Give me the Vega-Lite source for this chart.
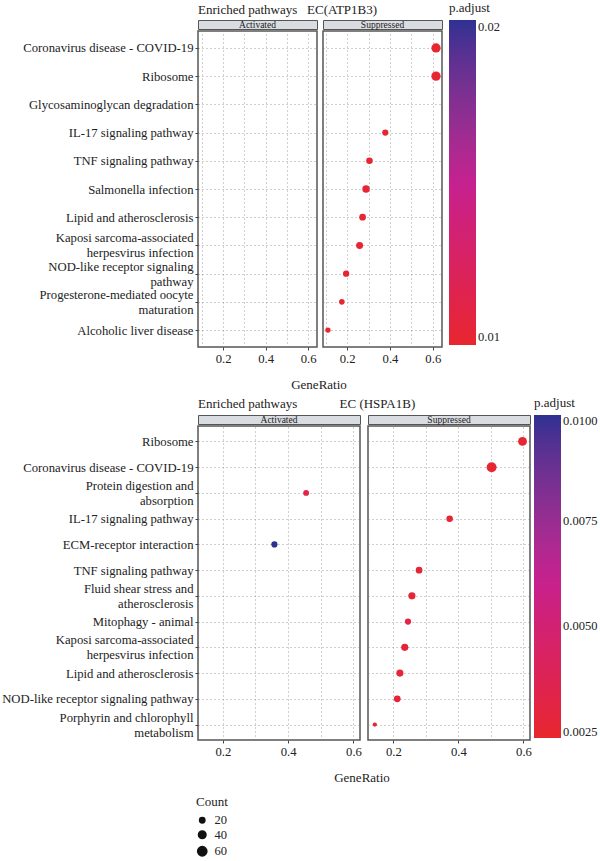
{
  "$schema": "https://vega.github.io/schema/vega-lite/v6.json",
  "padding": {"left": 0, "top": 2, "right": 5, "bottom": 5},
  "datasets": {
    "top": [
      {"Description": "Coronavirus disease - COVID-19", "Direction": "Suppressed", "GeneRatio": 0.615, "Count": 60, "p_adjust": 0.0099},
      {"Description": "Ribosome", "Direction": "Suppressed", "GeneRatio": 0.615, "Count": 60, "p_adjust": 0.0099},
      {"Description": "IL-17 signaling pathway", "Direction": "Suppressed", "GeneRatio": 0.378, "Count": 27, "p_adjust": 0.0100},
      {"Description": "TNF signaling pathway", "Direction": "Suppressed", "GeneRatio": 0.304, "Count": 30, "p_adjust": 0.0100},
      {"Description": "Salmonella infection", "Direction": "Suppressed", "GeneRatio": 0.288, "Count": 39, "p_adjust": 0.0100},
      {"Description": "Lipid and atherosclerosis", "Direction": "Suppressed", "GeneRatio": 0.272, "Count": 32, "p_adjust": 0.0100},
      {"Description": "Kaposi sarcoma-associated herpesvirus infection", "Direction": "Suppressed", "GeneRatio": 0.258, "Count": 34, "p_adjust": 0.0100},
      {"Description": "NOD-like receptor signaling pathway", "Direction": "Suppressed", "GeneRatio": 0.195, "Count": 28, "p_adjust": 0.0100},
      {"Description": "Progesterone-mediated oocyte maturation", "Direction": "Suppressed", "GeneRatio": 0.175, "Count": 22, "p_adjust": 0.0100},
      {"Description": "Alcoholic liver disease", "Direction": "Suppressed", "GeneRatio": 0.110, "Count": 20, "p_adjust": 0.0100}
    ],
    "bottom": [
      {"Description": "Ribosome", "Direction": "Suppressed", "GeneRatio": 0.597, "Count": 55, "p_adjust": 0.0025},
      {"Description": "Coronavirus disease - COVID-19", "Direction": "Suppressed", "GeneRatio": 0.502, "Count": 69, "p_adjust": 0.0025},
      {"Description": "Protein digestion and absorption", "Direction": "Activated", "GeneRatio": 0.455, "Count": 24, "p_adjust": 0.0033},
      {"Description": "IL-17 signaling pathway", "Direction": "Suppressed", "GeneRatio": 0.373, "Count": 30, "p_adjust": 0.0026},
      {"Description": "ECM-receptor interaction", "Direction": "Activated", "GeneRatio": 0.358, "Count": 27, "p_adjust": 0.0100},
      {"Description": "TNF signaling pathway", "Direction": "Suppressed", "GeneRatio": 0.279, "Count": 32, "p_adjust": 0.0026},
      {"Description": "Fluid shear stress and atherosclerosis", "Direction": "Suppressed", "GeneRatio": 0.257, "Count": 36, "p_adjust": 0.0026},
      {"Description": "Mitophagy - animal", "Direction": "Suppressed", "GeneRatio": 0.245, "Count": 27, "p_adjust": 0.0032},
      {"Description": "Kaposi sarcoma-associated herpesvirus infection", "Direction": "Suppressed", "GeneRatio": 0.235, "Count": 36, "p_adjust": 0.0027},
      {"Description": "Lipid and atherosclerosis", "Direction": "Suppressed", "GeneRatio": 0.220, "Count": 36, "p_adjust": 0.0026},
      {"Description": "NOD-like receptor signaling pathway", "Direction": "Suppressed", "GeneRatio": 0.212, "Count": 32, "p_adjust": 0.0027},
      {"Description": "Porphyrin and chlorophyll metabolism", "Direction": "Suppressed", "GeneRatio": 0.143, "Count": 13, "p_adjust": 0.0026}
    ],
    "stripA": [{"label": "Activated"}],
    "stripS": [{"label": "Suppressed"}]
  },
  "vconcat": [
    {
      "title": {"text": "Enriched pathways\u00a0\u00a0\u00a0EC(ATP1B3)", "anchor": "start", "frame": "group", "offset": -15},
      "vconcat": [
        {
          "title": {"text": "GeneRatio", "orient": "bottom", "anchor": "middle", "frame": "group", "offset": 14, "dx": 121},
          "spacing": 4,
          "hconcat": [
            {
              "spacing": 0,
              "vconcat": [
                {"width": 119, "height": 9, "data": {"name": "stripA"}, "view": {"fill": "#d9dce1", "stroke": "#555"},
                 "mark": {"type": "text", "fontSize": 9.5, "font": "Liberation Serif", "color": "#222", "baseline": "middle"},
                 "encoding": {"text": {"field": "label"}}},
                {"width": 119, "height": 316, "data": {"name": "top"},
                 "transform": [{"filter": "datum.Direction == 'Activated'"}],
                 "mark": {"type": "circle", "opacity": 1},
                 "encoding": {
                   "x": {"field": "GeneRatio", "type": "quantitative", "scale": {"domain": [0.082, 0.642], "nice": false, "zero": false},
                         "axis": {"title": null, "values": [0.1, 0.2, 0.3, 0.4, 0.5, 0.6], "labelExpr": "(round(datum.value*10) % 2 == 0) ? format(datum.value, '.1f') : ''", "tickOpacity": {"condition": {"test": "round(datum.value*10) % 2 == 0", "value": 1}, "value": 0}}},
                   "y": {"field": "Description", "type": "nominal", "scale": {"type": "point", "padding": 0.6, "domain": ["Coronavirus disease - COVID-19","Ribosome","Glycosaminoglycan degradation","IL-17 signaling pathway","TNF signaling pathway","Salmonella infection","Lipid and atherosclerosis","Kaposi sarcoma-associated herpesvirus infection","NOD-like receptor signaling pathway","Progesterone-mediated oocyte maturation","Alcoholic liver disease"]},
                         "axis": {"title": null, "labelLineHeight": 15, "labelLimit": 300,
                                  "labelOffset": {"condition": {"test": "indexof(['Kaposi sarcoma-associated herpesvirus infection', 'NOD-like receptor signaling pathway', 'Progesterone-mediated oocyte maturation'], datum.value) >= 0", "value": -7.5}, "value": 0},
                                  "labelExpr": "datum.label == 'Kaposi sarcoma-associated herpesvirus infection' ? ['Kaposi sarcoma-associated', 'herpesvirus infection'] : datum.label == 'NOD-like receptor signaling pathway' ? ['NOD-like receptor signaling', 'pathway'] : datum.label == 'Progesterone-mediated oocyte maturation' ? ['Progesterone-mediated oocyte', 'maturation'] : datum.label"}},
                   "size": {"field": "Count", "type": "quantitative", "scale": {"domain": [0, 70], "range": [0, 100]}, "legend": {"title": "Count", "values": [20, 40, 60], "orient": "none", "legendX": -2, "legendY": 776}},
                   "color": {"field": "p_adjust", "type": "quantitative", "scale": {"domain": [0.00974, 0.02023], "range": ["#E8262E", "#C52190", "#2E3192"], "interpolate": "lab"},
                             "legend": {"title": "p.adjust", "values": [0.01, 0.02], "format": ".2f", "gradientLength": 325, "gradientThickness": 27, "orient": "none", "legendX": 251, "legendY": -18}}
                 }}
              ]
            },
            {
              "spacing": 0,
              "vconcat": [
                {"width": 119, "height": 9, "data": {"name": "stripS"}, "view": {"fill": "#d9dce1", "stroke": "#555"},
                 "mark": {"type": "text", "fontSize": 9.5, "font": "Liberation Serif", "color": "#222", "baseline": "middle"},
                 "encoding": {"text": {"field": "label"}}},
                {"width": 119, "height": 316, "data": {"name": "top"},
                 "transform": [{"filter": "datum.Direction == 'Suppressed'"}],
                 "mark": {"type": "circle", "opacity": 1},
                 "encoding": {
                   "x": {"field": "GeneRatio", "type": "quantitative", "scale": {"domain": [0.087, 0.643], "nice": false, "zero": false},
                         "axis": {"title": null, "values": [0.1, 0.2, 0.3, 0.4, 0.5, 0.6], "labelExpr": "(round(datum.value*10) % 2 == 0) ? format(datum.value, '.1f') : ''", "tickOpacity": {"condition": {"test": "round(datum.value*10) % 2 == 0", "value": 1}, "value": 0}}},
                   "y": {"field": "Description", "type": "nominal", "scale": {"type": "point", "padding": 0.6, "domain": ["Coronavirus disease - COVID-19","Ribosome","Glycosaminoglycan degradation","IL-17 signaling pathway","TNF signaling pathway","Salmonella infection","Lipid and atherosclerosis","Kaposi sarcoma-associated herpesvirus infection","NOD-like receptor signaling pathway","Progesterone-mediated oocyte maturation","Alcoholic liver disease"]},
                         "axis": {"title": null, "labels": false, "ticks": false}},
                   "size": {"field": "Count", "type": "quantitative", "scale": {"domain": [0, 70], "range": [0, 100]}, "legend": {"title": "Count", "values": [20, 40, 60], "orient": "none", "legendX": -2, "legendY": 776}},
                   "color": {"field": "p_adjust", "type": "quantitative", "scale": {"domain": [0.00974, 0.02023], "range": ["#E8262E", "#C52190", "#2E3192"], "interpolate": "lab"},
                             "legend": {"title": "p.adjust", "values": [0.01, 0.02], "format": ".2f", "gradientLength": 325, "gradientThickness": 27, "orient": "none", "legendX": 251, "legendY": -18}}
                 }}
              ]
            }
          ]
        }
      ]
    },
    {
      "title": {"text": "Enriched pathways\u00a0\u00a0\u00a0\u00a0\u00a0\u00a0\u00a0\u00a0\u00a0\u00a0\u00a0\u00a0\u00a0EC (HSPA1B)", "anchor": "start", "frame": "group", "offset": -14},
      "vconcat": [
        {
          "title": {"text": "GeneRatio", "orient": "bottom", "anchor": "middle", "frame": "group", "offset": 14, "dx": 164},
          "spacing": 4,
          "hconcat": [
            {
              "spacing": 0,
              "vconcat": [
                {"width": 162, "height": 9, "data": {"name": "stripA"}, "view": {"fill": "#d9dce1", "stroke": "#555"},
                 "mark": {"type": "text", "fontSize": 9.5, "font": "Liberation Serif", "color": "#222", "baseline": "middle"},
                 "encoding": {"text": {"field": "label"}}},
                {"width": 162, "height": 314, "data": {"name": "bottom"},
                 "transform": [{"filter": "datum.Direction == 'Activated'"}],
                 "mark": {"type": "circle", "opacity": 1},
                 "encoding": {
                   "x": {"field": "GeneRatio", "type": "quantitative", "scale": {"domain": [0.124, 0.62], "nice": false, "zero": false},
                         "axis": {"title": null, "values": [0.2, 0.3, 0.4, 0.5, 0.6], "labelExpr": "(round(datum.value*10) % 2 == 0) ? format(datum.value, '.1f') : ''", "tickOpacity": {"condition": {"test": "round(datum.value*10) % 2 == 0", "value": 1}, "value": 0}}},
                   "y": {"field": "Description", "type": "nominal", "scale": {"type": "point", "padding": 0.6, "domain": ["Ribosome","Coronavirus disease - COVID-19","Protein digestion and absorption","IL-17 signaling pathway","ECM-receptor interaction","TNF signaling pathway","Fluid shear stress and atherosclerosis","Mitophagy - animal","Kaposi sarcoma-associated herpesvirus infection","Lipid and atherosclerosis","NOD-like receptor signaling pathway","Porphyrin and chlorophyll metabolism"]},
                         "axis": {"title": null, "labelLineHeight": 15, "labelLimit": 300,
                                  "labelOffset": {"condition": {"test": "indexof(['Kaposi sarcoma-associated herpesvirus infection', 'Protein digestion and absorption', 'Fluid shear stress and atherosclerosis', 'Porphyrin and chlorophyll metabolism'], datum.value) >= 0", "value": -7.5}, "value": 0},
                                  "labelExpr": "datum.label == 'Kaposi sarcoma-associated herpesvirus infection' ? ['Kaposi sarcoma-associated', 'herpesvirus infection'] : datum.label == 'Protein digestion and absorption' ? ['Protein digestion and', 'absorption'] : datum.label == 'Fluid shear stress and atherosclerosis' ? ['Fluid shear stress and', 'atherosclerosis'] : datum.label == 'Porphyrin and chlorophyll metabolism' ? ['Porphyrin and chlorophyll', 'metabolism'] : datum.label"}},
                   "size": {"field": "Count", "type": "quantitative", "scale": {"domain": [0, 70], "range": [0, 100]}, "legend": {"title": "Count", "values": [20, 40, 60], "orient": "none", "legendX": -2, "legendY": 776}},
                   "color": {"field": "p_adjust", "type": "quantitative", "scale": {"domain": [0.00235, 0.0100], "range": ["#E8262E", "#C52190", "#2E3192"], "interpolate": "lab"},
                             "legend": {"title": "p.adjust", "values": [0.0025, 0.005, 0.0075, 0.01], "format": ".4f", "gradientLength": 323, "gradientThickness": 27, "orient": "none", "legendX": 336, "legendY": -18}}
                 }}
              ]
            },
            {
              "spacing": 0,
              "vconcat": [
                {"width": 162, "height": 9, "data": {"name": "stripS"}, "view": {"fill": "#d9dce1", "stroke": "#555"},
                 "mark": {"type": "text", "fontSize": 9.5, "font": "Liberation Serif", "color": "#222", "baseline": "middle"},
                 "encoding": {"text": {"field": "label"}}},
                {"width": 162, "height": 314, "data": {"name": "bottom"},
                 "transform": [{"filter": "datum.Direction == 'Suppressed'"}],
                 "mark": {"type": "circle", "opacity": 1},
                 "encoding": {
                   "x": {"field": "GeneRatio", "type": "quantitative", "scale": {"domain": [0.122, 0.62], "nice": false, "zero": false},
                         "axis": {"title": null, "values": [0.2, 0.3, 0.4, 0.5, 0.6], "labelExpr": "(round(datum.value*10) % 2 == 0) ? format(datum.value, '.1f') : ''", "tickOpacity": {"condition": {"test": "round(datum.value*10) % 2 == 0", "value": 1}, "value": 0}}},
                   "y": {"field": "Description", "type": "nominal", "scale": {"type": "point", "padding": 0.6, "domain": ["Ribosome","Coronavirus disease - COVID-19","Protein digestion and absorption","IL-17 signaling pathway","ECM-receptor interaction","TNF signaling pathway","Fluid shear stress and atherosclerosis","Mitophagy - animal","Kaposi sarcoma-associated herpesvirus infection","Lipid and atherosclerosis","NOD-like receptor signaling pathway","Porphyrin and chlorophyll metabolism"]},
                         "axis": {"title": null, "labels": false, "ticks": false}},
                   "size": {"field": "Count", "type": "quantitative", "scale": {"domain": [0, 70], "range": [0, 100]}, "legend": {"title": "Count", "values": [20, 40, 60], "orient": "none", "legendX": -2, "legendY": 776}},
                   "color": {"field": "p_adjust", "type": "quantitative", "scale": {"domain": [0.00235, 0.0100], "range": ["#E8262E", "#C52190", "#2E3192"], "interpolate": "lab"},
                             "legend": {"title": "p.adjust", "values": [0.0025, 0.005, 0.0075, 0.01], "format": ".4f", "gradientLength": 323, "gradientThickness": 27, "orient": "none", "legendX": 336, "legendY": -18}}
                 }}
              ]
            }
          ]
        }
      ]
    }
  ],
  "spacing": 4,
  "resolve": {"scale": {"color": "independent", "size": "shared"}, "legend": {"color": "independent", "size": "shared"}},
  "config": {
    "font": "Liberation Serif",
    "view": {"stroke": "#555", "strokeWidth": 1.5},
    "axis": {"labelFont": "Liberation Serif", "labelFontSize": 12.7, "labelColor": "#222", "tickColor": "#444", "tickSize": 3, "labelPadding": 2, "domain": false, "grid": true, "gridColor": "#888", "gridDash": [1, 3], "gridWidth": 0.8},
    "legend": {"labelFont": "Liberation Serif", "labelFontSize": 12.5, "labelOffset": 6, "titleFont": "Liberation Serif", "titleFontSize": 13, "titleFontWeight": "normal", "titlePadding": 5, "labelColor": "#222", "titleColor": "#222", "symbolFillColor": "#111", "symbolStrokeColor": "#111", "rowPadding": 0.5},
    "title": {"font": "Liberation Serif", "fontSize": 13, "fontWeight": "normal", "color": "#222"}
  }
}
